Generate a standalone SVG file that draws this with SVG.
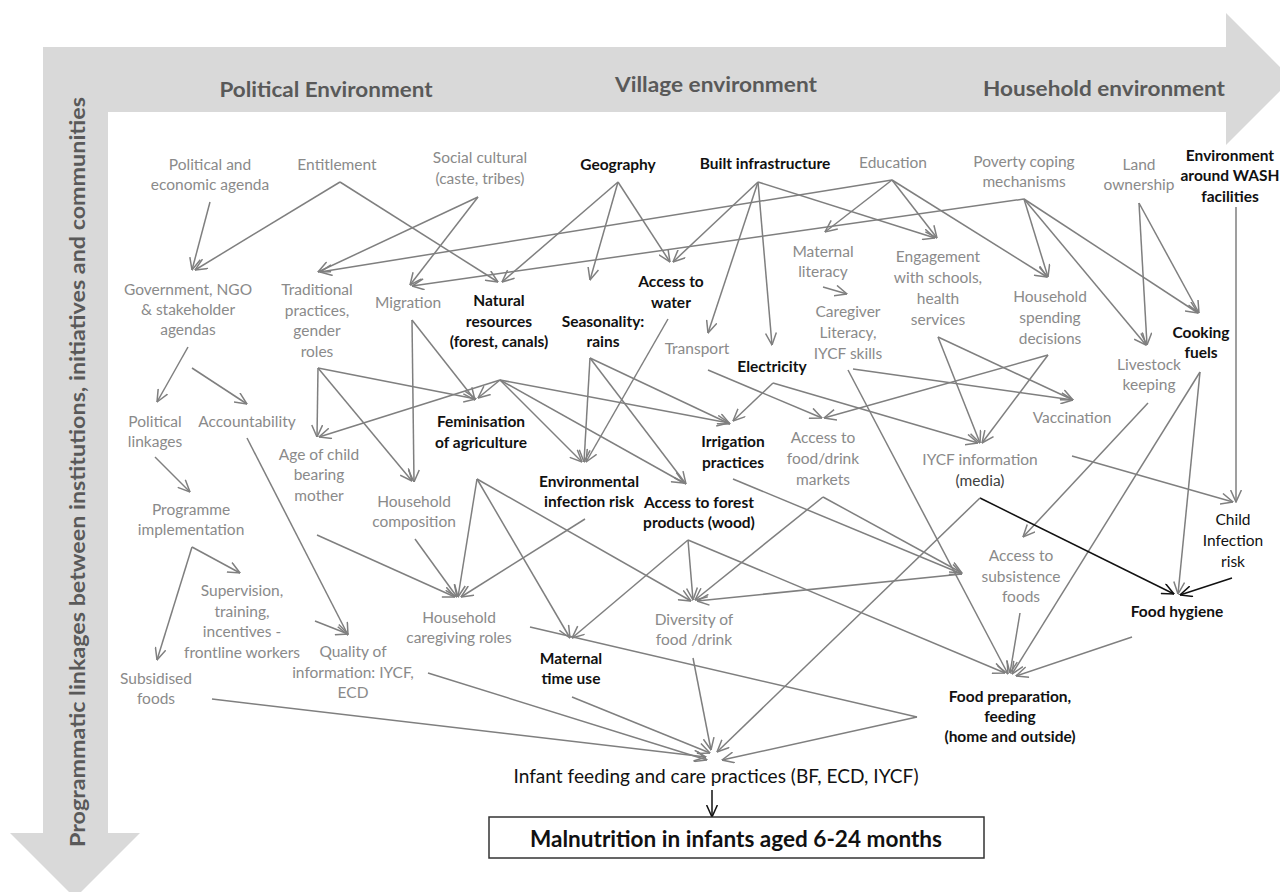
<svg xmlns="http://www.w3.org/2000/svg" width="1280" height="892" viewBox="0 0 1280 892">
<defs>
<marker id="ah" viewBox="0 0 13 12" refX="12.5" refY="6" markerWidth="13" markerHeight="12" orient="auto" markerUnits="userSpaceOnUse"><path d="M0.5,0.6 L12.5,6 L0.5,11.4" fill="none" stroke="#7f7f7f" stroke-width="1.5"/></marker>
<marker id="ahk" viewBox="0 0 13 12" refX="12.5" refY="6" markerWidth="13" markerHeight="12" orient="auto" markerUnits="userSpaceOnUse"><path d="M0.5,0.6 L12.5,6 L0.5,11.4" fill="none" stroke="#111" stroke-width="1.5"/></marker>
<style>
text{font-family:Lato,"Open Sans","Liberation Sans",sans-serif;text-anchor:middle}
.g{font-size:15.5px;fill:#8a8a8a}
.b{font-size:15.5px;fill:#111;font-weight:bold}
.k{font-size:15.5px;fill:#111}
.h{font-size:21px;fill:#595959;font-weight:bold}
.e{stroke:#7f7f7f;stroke-width:1.5;fill:none;marker-end:url(#ah)}
.p{stroke:#7f7f7f;stroke-width:1.5;fill:none}
.ek{stroke:#111;stroke-width:1.5;fill:none;marker-end:url(#ahk)}
</style>
</defs>
<rect width="1280" height="892" fill="#fff"/>
<g id="frame">
<path d="M43,47 L1226,47 L1226,13 L1292,79 L1226,145 L1226,112 L108,112 L108,833 L140,833 L75,898 L10,833 L43,833 Z" fill="#d9d9d9"/>
<text class="h" x="326" y="97" textLength="213" lengthAdjust="spacingAndGlyphs">Political Environment</text>
<text class="h" x="716" y="92" textLength="202" lengthAdjust="spacingAndGlyphs">Village environment</text>
<text class="h" x="1104" y="96" textLength="242" lengthAdjust="spacingAndGlyphs">Household environment</text>
<text class="h" transform="translate(85,472) rotate(-90)" x="0" y="0" textLength="750" lengthAdjust="spacingAndGlyphs">Programmatic linkages between institutions, initiatives and communities</text>
</g>
<g id="connectors">
<line class="e" x1="210" y1="202" x2="192" y2="270"/>
<line class="e" x1="340" y1="182" x2="195" y2="270"/>
<line class="e" x1="340" y1="182" x2="498" y2="282"/>
<line class="e" x1="478" y1="197" x2="318" y2="272"/>
<line class="e" x1="478" y1="197" x2="410" y2="285"/>
<line class="e" x1="892" y1="180" x2="320" y2="272"/>
<line class="e" x1="1024" y1="199" x2="412" y2="286"/>
<line class="e" x1="618" y1="182" x2="502" y2="282"/>
<line class="e" x1="618" y1="182" x2="590" y2="280"/>
<line class="e" x1="618" y1="182" x2="670" y2="262"/>
<line class="e" x1="758" y1="182" x2="673" y2="262"/>
<line class="e" x1="758" y1="182" x2="708" y2="333"/>
<line class="e" x1="758" y1="182" x2="772" y2="345"/>
<line class="e" x1="758" y1="182" x2="935" y2="238"/>
<line class="e" x1="892" y1="180" x2="825" y2="232"/>
<line class="e" x1="892" y1="180" x2="937" y2="238"/>
<line class="e" x1="892" y1="180" x2="1047" y2="277"/>
<line class="e" x1="1024" y1="199" x2="1048" y2="277"/>
<line class="e" x1="1024" y1="199" x2="1146" y2="345"/>
<line class="e" x1="1024" y1="199" x2="1198" y2="313"/>
<line class="e" x1="1139" y1="203" x2="1147" y2="345"/>
<line class="e" x1="1139" y1="203" x2="1199" y2="313"/>
<line class="e" x1="1236" y1="207" x2="1236" y2="502"/>
<line class="e" x1="823" y1="287" x2="847" y2="294"/>
<line class="e" x1="188" y1="347" x2="157" y2="402"/>
<line class="e" x1="192" y1="368" x2="247" y2="404"/>
<line class="e" x1="155" y1="457" x2="190" y2="492"/>
<line class="e" x1="192" y1="547" x2="240" y2="573"/>
<line class="e" x1="192" y1="547" x2="157" y2="660"/>
<line class="e" x1="247" y1="438" x2="348" y2="635"/>
<line class="e" x1="315" y1="621" x2="348" y2="634"/>
<line class="e" x1="318" y1="368" x2="317" y2="437"/>
<line class="e" x1="318" y1="368" x2="476" y2="399"/>
<line class="e" x1="318" y1="368" x2="412" y2="481"/>
<line class="e" x1="412" y1="320" x2="475" y2="400"/>
<line class="e" x1="412" y1="320" x2="414" y2="482"/>
<line class="e" x1="500" y1="380" x2="319" y2="437"/>
<line class="e" x1="500" y1="380" x2="478" y2="398"/>
<line class="e" x1="500" y1="380" x2="729" y2="423"/>
<line class="e" x1="500" y1="380" x2="582" y2="462"/>
<line class="e" x1="500" y1="380" x2="684" y2="483"/>
<line class="e" x1="590" y1="358" x2="584" y2="462"/>
<line class="e" x1="590" y1="358" x2="730" y2="424"/>
<line class="e" x1="590" y1="358" x2="686" y2="484"/>
<line class="e" x1="668" y1="319" x2="586" y2="462"/>
<line class="e" x1="708" y1="370" x2="822" y2="418"/>
<line class="e" x1="773" y1="383" x2="733" y2="421"/>
<line class="e" x1="773" y1="383" x2="978" y2="443"/>
<line class="e" x1="853" y1="369" x2="1073" y2="400"/>
<line class="e" x1="848" y1="370" x2="1008" y2="674"/>
<line class="e" x1="938" y1="337" x2="980" y2="443"/>
<line class="e" x1="938" y1="337" x2="1073" y2="400"/>
<line class="e" x1="1048" y1="355" x2="982" y2="443"/>
<line class="e" x1="1048" y1="355" x2="824" y2="418"/>
<line class="e" x1="1148" y1="403" x2="1023" y2="537"/>
<line class="e" x1="1200" y1="372" x2="1178" y2="594"/>
<line class="e" x1="1200" y1="372" x2="1012" y2="674"/>
<line class="ek" x1="980" y1="498" x2="1174" y2="594"/>
<line class="e" x1="980" y1="498" x2="717" y2="752"/>
<line class="e" x1="1072" y1="456" x2="1233" y2="502"/>
<line class="ek" x1="1232" y1="578" x2="1180" y2="595"/>
<line class="e" x1="477" y1="479" x2="458" y2="597"/>
<line class="e" x1="477" y1="479" x2="570" y2="638"/>
<line class="e" x1="477" y1="479" x2="691" y2="601"/>
<line class="e" x1="415" y1="539" x2="457" y2="597"/>
<line class="e" x1="317" y1="535" x2="455" y2="597"/>
<line class="e" x1="585" y1="519" x2="461" y2="597"/>
<line class="e" x1="688" y1="540" x2="572" y2="638"/>
<line class="e" x1="688" y1="540" x2="693" y2="600"/>
<line class="e" x1="688" y1="540" x2="1005" y2="673"/>
<line class="e" x1="823" y1="497" x2="695" y2="600"/>
<line class="e" x1="823" y1="497" x2="962" y2="573"/>
<line class="e" x1="733" y1="479" x2="962" y2="574"/>
<line class="e" x1="962" y1="574" x2="697" y2="601"/>
<line class="e" x1="1020" y1="613" x2="1010" y2="673"/>
<line class="e" x1="1132" y1="637" x2="1016" y2="676"/>
<line class="p" x1="530" y1="627" x2="917" y2="717"/>
<line class="e" x1="917" y1="717" x2="722" y2="760"/>
<line class="e" x1="572" y1="697" x2="710" y2="753"/>
<line class="e" x1="212" y1="699" x2="706" y2="757"/>
<line class="e" x1="428" y1="673" x2="707" y2="760"/>
<line class="e" x1="693" y1="658" x2="711" y2="750"/>
<line class="ek" x1="712" y1="790" x2="712" y2="817"/>
</g>
<g id="n-pa"><text class="g"><tspan x="210" y="170">Political and</tspan><tspan x="210" y="190">economic agenda</tspan></text></g>
<g id="n-ent"><text class="g" x="337" y="170">Entitlement</text></g>
<g id="n-soc"><text class="g"><tspan x="480" y="163">Social cultural</tspan><tspan x="480" y="184">(caste, tribes)</tspan></text></g>
<g id="n-geo"><text class="b" x="618" y="170">Geography</text></g>
<g id="n-built"><text class="b" x="765" y="169">Built infrastructure</text></g>
<g id="n-edu"><text class="g" x="893" y="168">Education</text></g>
<g id="n-pov"><text class="g"><tspan x="1024" y="167">Poverty coping</tspan><tspan x="1024" y="187">mechanisms</tspan></text></g>
<g id="n-land"><text class="g"><tspan x="1139" y="170">Land</tspan><tspan x="1139" y="190">ownership</tspan></text></g>
<g id="n-wash"><text class="b"><tspan x="1230" y="161">Environment</tspan><tspan x="1230" y="181">around WASH</tspan><tspan x="1230" y="202">facilities</tspan></text></g>
<g id="n-gov"><text class="g"><tspan x="188" y="295">Government, NGO</tspan><tspan x="188" y="315">&amp; stakeholder</tspan><tspan x="188" y="335">agendas</tspan></text></g>
<g id="n-trad"><text class="g"><tspan x="317" y="295">Traditional</tspan><tspan x="317" y="316">practices,</tspan><tspan x="317" y="336">gender</tspan><tspan x="317" y="357">roles</tspan></text></g>
<g id="n-mig"><text class="g" x="408" y="308">Migration</text></g>
<g id="n-nat"><text class="b"><tspan x="499" y="306">Natural</tspan><tspan x="499" y="327">resources</tspan><tspan x="499" y="347">(forest, canals)</tspan></text></g>
<g id="n-seas"><text class="b"><tspan x="603" y="327">Seasonality:</tspan><tspan x="603" y="347">rains</tspan></text></g>
<g id="n-water"><text class="b"><tspan x="671" y="287">Access to</tspan><tspan x="671" y="308">water</tspan></text></g>
<g id="n-matlit"><text class="g"><tspan x="823" y="257">Maternal</tspan><tspan x="823" y="277">literacy</tspan></text></g>
<g id="n-eng"><text class="g"><tspan x="938" y="262">Engagement</tspan><tspan x="938" y="283">with schools,</tspan><tspan x="938" y="304">health</tspan><tspan x="938" y="325">services</tspan></text></g>
<g id="n-hhs"><text class="g"><tspan x="1050" y="302">Household</tspan><tspan x="1050" y="323">spending</tspan><tspan x="1050" y="344">decisions</tspan></text></g>
<g id="n-care"><text class="g"><tspan x="848" y="317">Caregiver</tspan><tspan x="848" y="338">Literacy,</tspan><tspan x="848" y="359">IYCF skills</tspan></text></g>
<g id="n-trans"><text class="g" x="697" y="354">Transport</text></g>
<g id="n-elec"><text class="b" x="772" y="372">Electricity</text></g>
<g id="n-cook"><text class="b"><tspan x="1201" y="338">Cooking</tspan><tspan x="1201" y="358">fuels</tspan></text></g>
<g id="n-live"><text class="g"><tspan x="1149" y="370">Livestock</tspan><tspan x="1149" y="390">keeping</tspan></text></g>
<g id="n-vacc"><text class="g" x="1072" y="423">Vaccination</text></g>
<g id="n-pl"><text class="g"><tspan x="155" y="427">Political</tspan><tspan x="155" y="447">linkages</tspan></text></g>
<g id="n-acc"><text class="g" x="247" y="427">Accountability</text></g>
<g id="n-fem"><text class="b"><tspan x="481" y="427">Feminisation</tspan><tspan x="481" y="448">of agriculture</tspan></text></g>
<g id="n-irr"><text class="b"><tspan x="733" y="447">Irrigation</tspan><tspan x="733" y="468">practices</tspan></text></g>
<g id="n-mkt"><text class="g"><tspan x="823" y="443">Access to</tspan><tspan x="823" y="464">food/drink</tspan><tspan x="823" y="485">markets</tspan></text></g>
<g id="n-iycf"><text class="g"><tspan x="980" y="465">IYCF information</tspan><tspan x="980" y="486" fill="#404040">(media)</tspan></text></g>
<g id="n-age"><text class="g"><tspan x="319" y="460">Age of child</tspan><tspan x="319" y="480">bearing</tspan><tspan x="319" y="501">mother</tspan></text></g>
<g id="n-env"><text class="b"><tspan x="589" y="487">Environmental</tspan><tspan x="589" y="507">infection risk</tspan></text></g>
<g id="n-forest"><text class="b"><tspan x="699" y="508">Access to forest</tspan><tspan x="699" y="528">products (wood)</tspan></text></g>
<g id="n-hhc"><text class="g"><tspan x="414" y="507">Household</tspan><tspan x="414" y="527">composition</tspan></text></g>
<g id="n-prog"><text class="g"><tspan x="191" y="515">Programme</tspan><tspan x="191" y="535">implementation</tspan></text></g>
<g id="n-child"><text class="k"><tspan x="1233" y="525">Child</tspan><tspan x="1233" y="546">Infection</tspan><tspan x="1233" y="567">risk</tspan></text></g>
<g id="n-sub"><text class="g"><tspan x="1021" y="561">Access to</tspan><tspan x="1021" y="582">subsistence</tspan><tspan x="1021" y="602">foods</tspan></text></g>
<g id="n-sup"><text class="g"><tspan x="242" y="596">Supervision,</tspan><tspan x="242" y="617">training,</tspan><tspan x="242" y="637">incentives -</tspan><tspan x="242" y="658">frontline workers</tspan></text></g>
<g id="n-hhcare"><text class="g"><tspan x="459" y="623">Household</tspan><tspan x="459" y="643">caregiving roles</tspan></text></g>
<g id="n-div"><text class="g"><tspan x="694" y="625">Diversity of</tspan><tspan x="694" y="645">food /drink</tspan></text></g>
<g id="n-hyg"><text class="b" x="1177" y="617">Food hygiene</text></g>
<g id="n-qual"><text class="g"><tspan x="353" y="657">Quality of</tspan><tspan x="353" y="678">information: IYCF,</tspan><tspan x="353" y="698">ECD</tspan></text></g>
<g id="n-mat"><text class="b"><tspan x="571" y="664">Maternal</tspan><tspan x="571" y="684">time use</tspan></text></g>
<g id="n-subs"><text class="g"><tspan x="156" y="684">Subsidised</tspan><tspan x="156" y="704">foods</tspan></text></g>
<g id="n-prep"><text class="b"><tspan x="1010" y="702">Food preparation,</tspan><tspan x="1010" y="722">feeding</tspan><tspan x="1010" y="742">(home and outside)</tspan></text></g>
<g id="n-infant"><text x="716" y="783" font-size="18.5" fill="#111" textLength="405" lengthAdjust="spacingAndGlyphs">Infant feeding and care practices (BF, ECD, IYCF)</text></g>
<g id="n-mal"><rect x="489" y="817" width="495" height="41" fill="#fff" stroke="#333" stroke-width="1.5"/><text x="736" y="847" font-size="22" font-weight="bold" fill="#111" textLength="412" lengthAdjust="spacingAndGlyphs">Malnutrition in infants aged 6-24 months</text></g>
</svg>
